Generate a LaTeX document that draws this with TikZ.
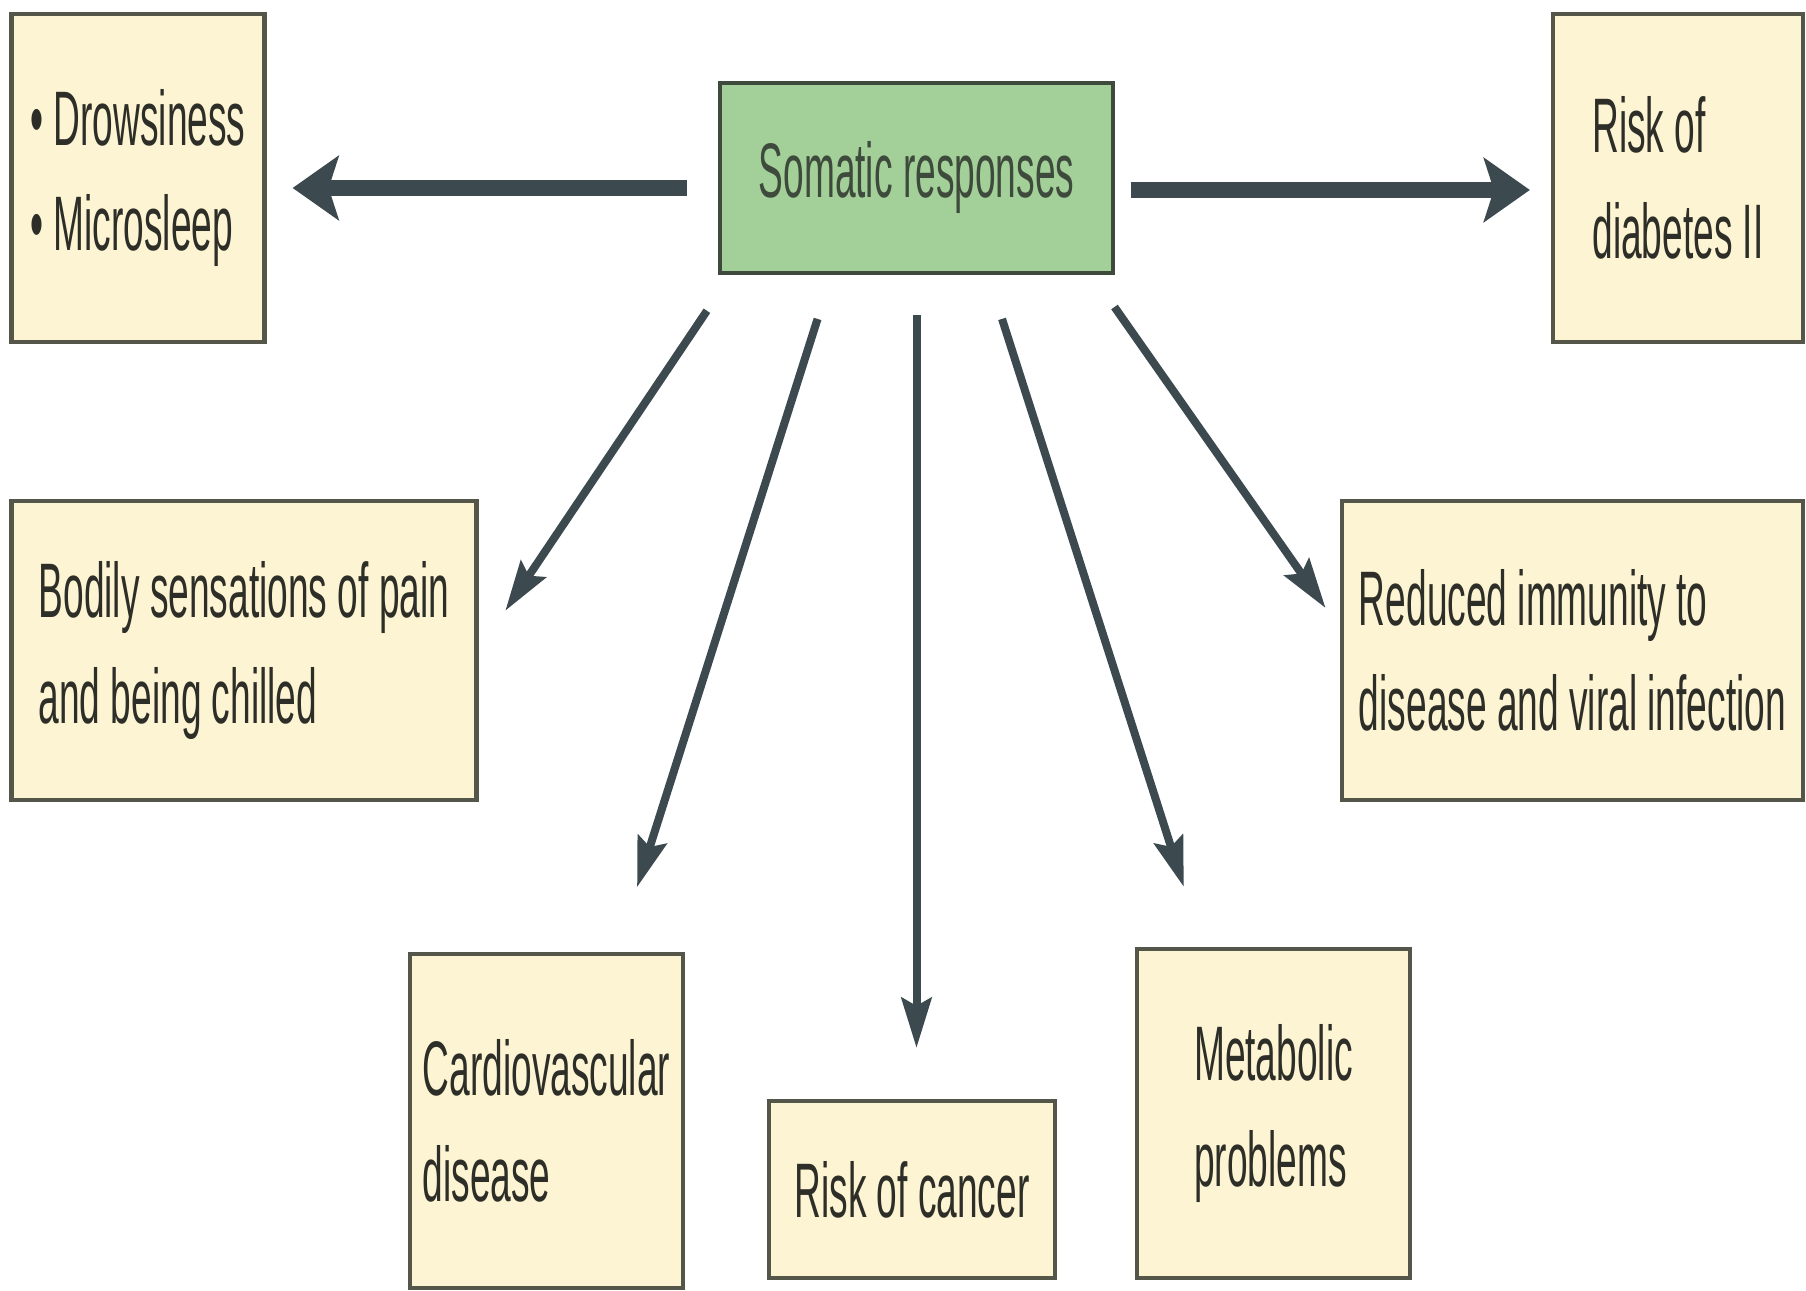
\documentclass[tikz,border=0pt]{standalone}
\usepackage{fontspec}
\setmainfont[FakeStretch=0.48]{Liberation Sans}
\usetikzlibrary{arrows.meta,positioning,calc}

\definecolor{boxfill}{HTML}{FCF4D2}
\definecolor{boxline}{HTML}{55564A}
\definecolor{somafill}{HTML}{A3CF99}
\definecolor{somaline}{HTML}{3E4A3B}
\definecolor{arrowcol}{HTML}{3C4A50}
\definecolor{textcol}{HTML}{2E2E28}

\begin{document}
\begin{tikzpicture}[every node/.style={draw=boxline, line width=1.2pt, rectangle, align=left, inner sep=0pt, text=textcol, font=\fontsize{22}{30}\selectfont},
  outcome/.style={fill=boxfill},
  somatic/.style={fill=somafill, draw=somaline, text=somaline},
  bigarrow/.style={-{Stealth[length=0.46cm, width=0.64cm, inset=0.1cm]}, line width=0.16cm, draw=arrowcol},
  smallarrow/.style={-{Stealth[length=0.5cm, width=0.3cm, inset=0.08cm]}, line width=0.08cm, draw=arrowcol}]

\useasboundingbox (0,0) rectangle (18.06,12.91);

% Top row
\node[outcome, minimum width=2.53cm, minimum height=3.28cm] (drowsy) at (1.38, 11.13) {• Drowsiness\\• Microsleep};
\node[somatic, minimum width=3.93cm, minimum height=1.90cm] (soma) at (9.165, 11.13) {Somatic responses};
\node[outcome, minimum width=2.50cm, minimum height=3.28cm] (diabetes) at (16.78, 11.13) {Risk of\\diabetes II};

% Middle row
\node[outcome, minimum width=4.65cm, minimum height=2.99cm] (pain) at (2.44, 6.405) {Bodily sensations of pain\\and being chilled};
\node[outcome, minimum width=4.61cm, minimum height=2.99cm] (immunity) at (15.725, 6.405) {Reduced immunity to\\disease and viral infection};

% Bottom row
\node[outcome, minimum width=2.73cm, minimum height=3.34cm] (cardio) at (5.465, 1.70) {Cardiovascular\\disease};
\node[outcome, minimum width=2.86cm, minimum height=1.77cm] (cancer) at (9.12, 1.015) {Risk of cancer};
\node[outcome, minimum width=2.73cm, minimum height=3.29cm] (metabolic) at (12.735, 1.775) {Metabolic\\problems};

% Side arrows
\draw[bigarrow, shorten <=0.31cm, shorten >=0.26cm] ([yshift=-0.1cm]soma.west) -- ([yshift=-0.1cm]drowsy.east);
\draw[bigarrow, shorten <=0.16cm, shorten >=0.21cm] ([yshift=-0.12cm]soma.east) -- ([yshift=-0.12cm]diabetes.west);

% Arrows downwards
\draw[smallarrow, shorten <=0.43cm, shorten >=0.48cm] ([xshift=0.13cm]soma.south west) -- (pain.east);
\draw[smallarrow, shorten <=0.46cm, shorten >=0.68cm] ([xshift=-0.85cm]soma.south) -- ([xshift=0.7cm]cardio.north);
\draw[smallarrow, shorten <=0.40cm, shorten >=0.51cm] (soma.south) -- (soma.south |- cancer.north);
\draw[smallarrow, shorten <=0.46cm, shorten >=0.63cm] ([xshift=0.715cm]soma.south) -- ([xshift=-0.705cm]metabolic.north);
\draw[smallarrow, shorten <=0.39cm, shorten >=0.25cm] ([xshift=-0.23cm]soma.south east) -- ([yshift=0.22cm]immunity.west);

\end{tikzpicture}
\end{document}
